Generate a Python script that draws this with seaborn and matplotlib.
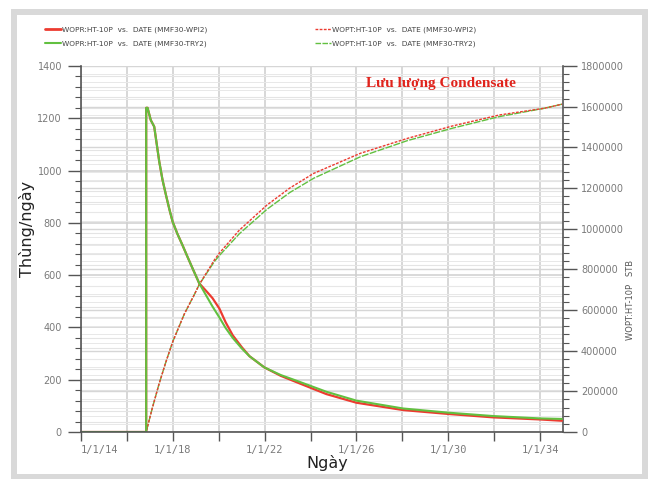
import matplotlib
matplotlib.use("Agg")
import matplotlib.pyplot as plt
import seaborn as sns
from matplotlib.ticker import MultipleLocator
from matplotlib.transforms import blended_transform_factory
from matplotlib.patches import Rectangle
from matplotlib.lines import Line2D

# ---------------- data ----------------
rate_years_wpi2 = [2014.0, 2016.84, 2016.84, 2016.90, 2017.04, 2017.19, 2017.41, 2017.55,
                   2017.70, 2017.85, 2017.99, 2018.20, 2018.42, 2018.65, 2018.86, 2019.15,
                   2019.50, 2019.73, 2020.03, 2020.30, 2020.61, 2021.00, 2021.34, 2021.99,
                   2022.70, 2023.52, 2024.69, 2026.00, 2028.03, 2030.00, 2031.96, 2034.00,
                   2034.95]
rate_wpi2 = [0, 0, 1240, 1240, 1193, 1168, 1034, 965, 907, 852, 805, 758, 715, 668, 626, 569,
             535, 512, 472, 420, 370, 325, 290, 247, 215, 186, 145, 112, 84, 69, 56, 48, 43]

rate_years_try2 = rate_years_wpi2
rate_try2 = [0, 0, 1240, 1240, 1193, 1168, 1034, 965, 907, 852, 805, 758, 715, 668, 626, 569,
             515, 480, 438, 398, 360, 320, 290, 247, 218, 192, 154, 120, 90, 74, 61, 52, 50]

cum_years = [2014.0, 2016.84, 2017.10, 2017.41, 2017.70, 2018.00, 2018.50, 2018.93, 2019.15,
             2019.81, 2020.03, 2020.90, 2022.10, 2023.10, 2024.14, 2026.18, 2028.22, 2030.18,
             2032.22, 2034.18, 2034.95]
cum_wpi2 = [0, 0, 115000, 240000, 345000, 445000, 580000, 674000, 725000, 846000, 880000,
            993000, 1116000, 1200000, 1272000, 1371000, 1444000, 1505000, 1559000, 1592000,
            1612000]
cum_try2 = [0, 0, 115000, 240000, 345000, 445000, 580000, 674000, 725000, 838000, 868000,
            975000, 1095000, 1178000, 1248000, 1354000, 1433000, 1494000, 1551000, 1592000,
            1612000]

x_ticks = [2014, 2016, 2018, 2020, 2022, 2024, 2026, 2028, 2030, 2032, 2034]
x_ticklabels = ["1/1/14", "", "1/1/18", "", "1/1/22", "", "1/1/26", "", "1/1/30", "", "1/1/34"]
left_ticks = [0, 200, 400, 600, 800, 1000, 1200, 1400]
right_ticks = [0, 200000, 400000, 600000, 800000, 1000000, 1200000, 1400000, 1600000, 1800000]

legend_labels = ["WOPR:HT-10P  vs.  DATE (MMF30-WPI2)",
                 "WOPR:HT-10P  vs.  DATE (MMF30-TRY2)",
                 "WOPT:HT-10P  vs.  DATE (MMF30-WPI2)",
                 "WOPT:HT-10P  vs.  DATE (MMF30-TRY2)"]
title = "Lưu lượng Condensate"
ylabel_left = "Thùng/ngày"
ylabel_right = "WOPT:HT-10P   STB"
xlabel = "Ngày"

# ---------------- styling ----------------
sns.set_theme(style="ticks")
plt.rcParams["font.family"] = ["DejaVu Sans"]

RED = "#ec3b30"
GREEN = "#62c040"
SPINE = "#555555"
TICKLAB = "#7a7a7a"

W, H = 649, 479
fig = plt.figure(figsize=(W / 100, H / 100), dpi=100)
fig.patch.set_facecolor("white")

ax = fig.add_axes([81 / W, (H - 432) / H, 482 / W, 366 / H])
ax2 = ax.twinx()
ax.set_zorder(2)
ax2.set_zorder(1)
ax.patch.set_visible(False)
ax2.patch.set_visible(True)
ax2.patch.set_facecolor("white")

ax.set_xlim(2014, 2035)
ax.set_ylim(0, 1400)
ax2.set_ylim(0, 1800000)

# ----- grids (all drawn on the background axes) -----
for xv in x_ticks:
    ax2.axvline(xv, color="#d4d4d4", lw=1.3, zorder=0)
blend = blended_transform_factory(ax2.transAxes, ax.transData)
for v in range(0, 1401, 40):
    major = v % 200 == 0
    ax2.add_line(Line2D([0, 1], [v, v], transform=blend,
                        color="#cfcfcf" if major else "#e4e4e4",
                        lw=1.1 if major else 0.8, zorder=0))
for v in range(0, 1800001, 40000):
    major = v % 200000 == 0
    ax2.axhline(v, color="#d6d6d6" if major else "#e8e8e8",
                lw=1.0 if major else 0.7, zorder=0)

# ----- series -----
sns.lineplot(x=cum_years, y=cum_try2, ax=ax2, color=GREEN, lw=1.0,
             linestyle=(0, (5, 1)), estimator=None, sort=False, legend=False)
sns.lineplot(x=cum_years, y=cum_wpi2, ax=ax2, color=RED, lw=1.0,
             linestyle=(0, (2, 1)), estimator=None, sort=False, legend=False)
sns.lineplot(x=rate_years_wpi2, y=rate_wpi2, ax=ax, color=RED, lw=1.6,
             estimator=None, sort=False, legend=False)
sns.lineplot(x=rate_years_try2, y=rate_try2, ax=ax, color=GREEN, lw=1.5,
             estimator=None, sort=False, legend=False)

# ----- axes / ticks -----
ax.grid(False)
ax2.grid(False)
ax.set_xticks(x_ticks)
ax.set_xticklabels(x_ticklabels, family="DejaVu Sans Mono")
ax.get_xticklabels()[0].set_horizontalalignment("left")
ax.set_yticks(left_ticks)
ax.set_yticklabels([str(v) for v in left_ticks])
ax.yaxis.set_minor_locator(MultipleLocator(40))
ax2.set_yticks(right_ticks)
ax2.set_yticklabels([str(v) for v in right_ticks])
ax2.yaxis.set_minor_locator(MultipleLocator(40000))

ax.tick_params(axis="y", which="major", left=True, right=False, length=9.4, width=1.0,
               color=SPINE, labelsize=7, labelcolor=TICKLAB, pad=4.3, direction="out")
ax.tick_params(axis="y", which="minor", left=True, right=False, length=4.3, width=0.8,
               color=SPINE, direction="out")
ax.tick_params(axis="x", which="major", bottom=True, top=False, length=6.5, width=1.0,
               color=SPINE, labelsize=7.5, labelcolor=TICKLAB, pad=2.5, direction="out")
ax2.tick_params(axis="y", which="major", right=True, left=False, length=10, width=1.0,
                color=SPINE, labelsize=7, labelcolor=TICKLAB, pad=3, direction="out")
ax2.tick_params(axis="y", which="minor", right=True, left=False, length=4.5, width=0.8,
                color=SPINE, direction="out")

for a in (ax, ax2):
    for s in a.spines.values():
        s.set_visible(False)
ax.spines["left"].set_visible(True)
ax.spines["bottom"].set_visible(True)
ax2.spines["right"].set_visible(True)
for s in (ax.spines["left"], ax.spines["bottom"], ax2.spines["right"]):
    s.set_color(SPINE)
    s.set_linewidth(1.2)

ax.set_xlabel(xlabel, fontsize=11.5, color="#222222")
ax.xaxis.set_label_coords(0.51, -0.063)
ax.set_ylabel(ylabel_left, fontsize=11.5, color="#222222")
ax.yaxis.set_label_coords(-0.095, 0.555)
ax2.set_ylabel(ylabel_right, fontsize=6, color="#555555")
ax2.yaxis.set_label_coords(1.131, 0.36)

ax.text(0.747, 0.951, title, transform=ax.transAxes, ha="center", va="center",
        fontsize=11, fontweight="bold", color="#e0231c", family="Liberation Serif")

# ----- legend -----
h1 = Line2D([], [], color=RED, lw=2)
h2 = Line2D([], [], color=GREEN, lw=1.5)
h3 = Line2D([], [], color=RED, lw=1.0, linestyle=(0, (2, 1)))
h4 = Line2D([], [], color=GREEN, lw=1.0, linestyle=(0, (4, 1)))
leg_kw = dict(loc="upper left", frameon=False, fontsize=5.3, handlelength=2.2,
              handletextpad=0.15, labelspacing=1.0, borderaxespad=0, borderpad=0,
              labelcolor="#444444")
fig.legend(handles=[h1, h2], labels=legend_labels[:2],
           bbox_to_anchor=(45 / W, 1 - 26 / H), **leg_kw)
fig.legend(handles=[h3, h4], labels=legend_labels[2:],
           bbox_to_anchor=(315 / W, 1 - 26 / H), **leg_kw)

# ----- outer frame -----
fig.patches.append(Rectangle((13.5 / W, (H - 476.5) / H), (644.5 - 13.5) / W, (476.5 - 11.5) / H,
                             transform=fig.transFigure, fill=False, edgecolor="#d9d9d9",
                             lw=4.3, zorder=10))

fig.savefig("out.png", dpi=100)
